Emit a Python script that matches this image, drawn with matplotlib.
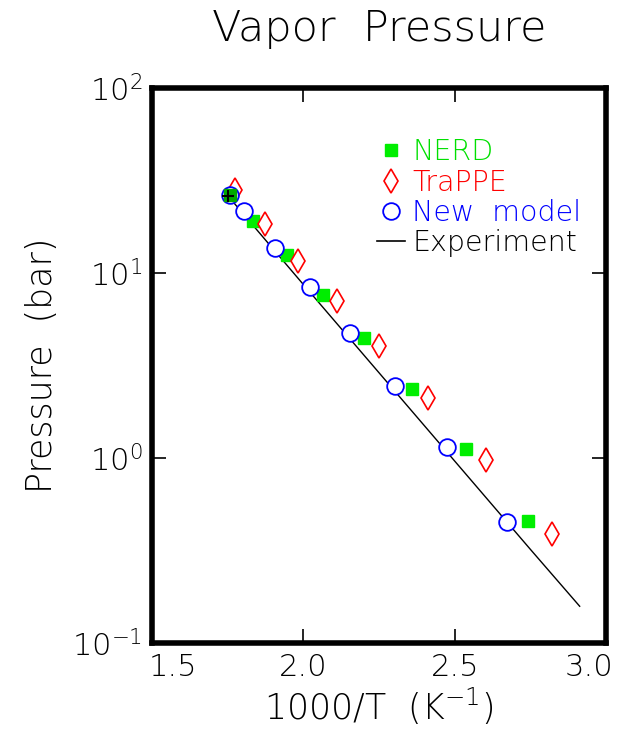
import matplotlib
matplotlib.use("Agg")
import matplotlib.pyplot as plt
from matplotlib.lines import Line2D
from matplotlib.transforms import ScaledTranslation

# Data
nerd_x = [1.757, 1.833, 1.946, 2.064, 2.200, 2.358, 2.536, 2.741]
nerd_p = [26.4, 19.1, 12.5, 7.6, 4.46, 2.36, 1.12, 0.456]

trappe_x = [1.774, 1.873, 1.982, 2.111, 2.249, 2.411, 2.602, 2.823]
trappe_p = [28.1, 18.4, 11.6, 7.1, 4.03, 2.11, 0.975, 0.388]

new_x = [1.757, 1.804, 1.906, 2.021, 2.153, 2.302, 2.474, 2.672]
new_p = [26.4, 21.6, 13.6, 8.4, 4.74, 2.45, 1.15, 0.45]

exp_x = [1.751, 2.0, 2.25, 2.5, 2.75, 2.913]
exp_p = [26.1, 8.67, 2.89, 0.963, 0.321, 0.158]

xticks = [1.5, 2.0, 2.5, 3.0]
xticklabels = ["1.5", "2.0", "2.5", "3.0"]
yticks = [0.1, 1, 10, 100]
yticklabels = ["$10^{-1}$", "$10^{0}$", "$10^{1}$", "$10^{2}$"]

plt.rcParams['font.family'] = ['DejaVu Sans']
plt.rcParams['font.weight'] = 'light'
plt.rcParams['axes.titleweight'] = 'light'
plt.rcParams['axes.labelweight'] = 'light'
plt.rcParams['mathtext.fontset'] = 'custom'
plt.rcParams['mathtext.rm'] = 'DejaVu Sans:light'
plt.rcParams['mathtext.default'] = 'rm'

fig = plt.figure(figsize=(6.18, 7.34), dpi=100)
ax = fig.add_axes([152/618, 1 - 643/734, (606-152)/618, (643-88)/734])

ax.plot(exp_x, exp_p, color='black', lw=1.0, zorder=1)
ax.plot(exp_x[0], exp_p[0], marker='+', color='black', ms=8, mew=1.5, zorder=6)
ax.plot(nerd_x, nerd_p, ls='none', marker='s', ms=8, mfc='#00ee00', mec='#00ee00', zorder=3)
ax.plot(trappe_x, trappe_p, ls='none', marker='d', ms=12, mfc='white', mec='red', mew=1.2, zorder=4)
ax.plot(new_x, new_p, ls='none', marker='o', ms=12, mfc='white', mec='blue', mew=1.3, zorder=5)
ax.plot(nerd_x[:1], nerd_p[:1], ls='none', marker='s', ms=8, mfc='#00aa00', mec='#00aa00', zorder=5.5)

ax.set_yscale('log')
ax.set_xlim(1.5, 3.0)
ax.set_ylim(0.1, 100)
ax.set_xticks(xticks)
ax.set_xticklabels(xticklabels)
ax.set_yticks(yticks)
ax.set_yticklabels(yticklabels)
ax.minorticks_off()
ax.tick_params(direction='in', length=10, width=1.2, top=True, right=True,
               labelsize=22, pad=7, labelcolor='black')
labs = ax.get_xticklabels()
labs[0].set_ha('left')
labs[0].set_transform(labs[0].get_transform() + ScaledTranslation(-3/100, 0, fig.dpi_scale_trans))
labs[-1].set_ha('right')
labs[-1].set_transform(labs[-1].get_transform() + ScaledTranslation(7/100, 0, fig.dpi_scale_trans))
for s in ax.spines.values():
    s.set_linewidth(4)

ax.set_xlabel("1000/T  (K$^{-1}$)", fontsize=25, labelpad=3)
ax.set_ylabel("Pressure  (bar)", fontsize=25)
ax.yaxis.set_label_coords(-0.205, 0.5)
ax.set_title("Vapor  Pressure", fontsize=31, pad=34)

handles = [
    Line2D([], [], ls='none', marker='s', ms=8, mfc='#00ee00', mec='#00ee00'),
    Line2D([], [], ls='none', marker='d', ms=12, mfc='white', mec='red', mew=1.2),
    Line2D([], [], ls='none', marker='o', ms=12, mfc='white', mec='blue', mew=1.3),
    Line2D([], [], color='black', lw=1.2),
]
labels = ["NERD", "TraPPE", "New  model", "Experiment"]
leg = ax.legend(handles, labels, loc='upper left', bbox_to_anchor=(0.47, 0.93),
                frameon=False, fontsize=20.5, handlelength=1.0, handletextpad=0.25,
                labelspacing=0.08, borderaxespad=0)
for t, c in zip(leg.get_texts(), ['#00e000', 'red', 'blue', 'black']):
    t.set_color(c)

fig.savefig("out.png", dpi=100)
